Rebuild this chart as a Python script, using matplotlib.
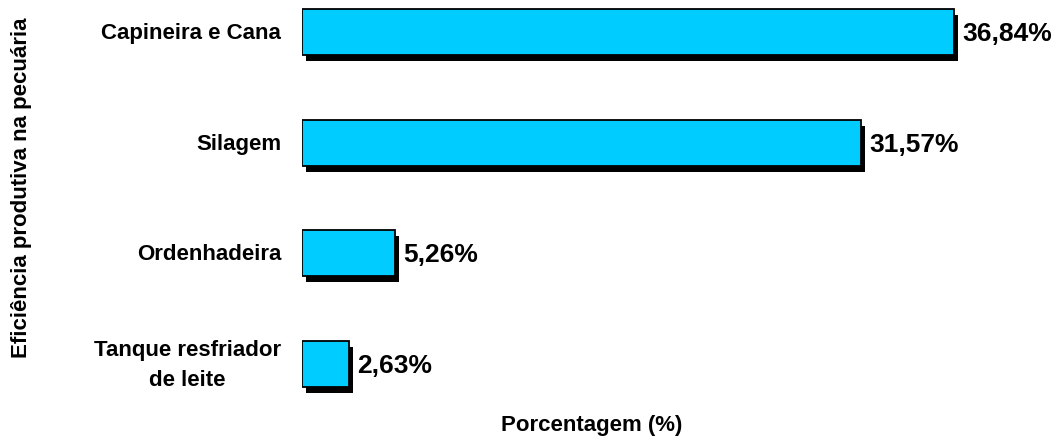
import matplotlib
matplotlib.use("Agg")
import matplotlib.pyplot as plt
import matplotlib.patheffects as pe

categories = ["Tanque resfriador\nde leite", "Ordenhadeira", "Silagem", "Capineira e Cana"]
values = [2.63, 5.26, 31.57, 36.84]
value_labels = ["2,63%", "5,26%", "31,57%", "36,84%"]

plt.rcParams['font.family'] = ['Liberation Sans', 'DejaVu Sans']

W, H = 1061, 441
fig = plt.figure(figsize=(W / 100, H / 100), dpi=100)
# axes: left at x=302 px, pixels per % = 17.7
px_per_unit = 17.7
xmax = 40
ax_left = 302
ax_w = xmax * px_per_unit
ax_top = 0
ax_bottom_px = 400
ax = fig.add_axes([ax_left / W, 1 - ax_bottom_px / H, ax_w / W, (ax_bottom_px - ax_top) / H])

spacing = 110.7
units = (ax_bottom_px - ax_top) / spacing
ytop = 3 + 32 / spacing
ax.set_ylim(ytop - units, ytop)
ax.set_xlim(0, xmax)

ypos = list(range(len(categories)))
bars = ax.barh(ypos, values, height=0.415, color="#00CCFF", edgecolor="black", linewidth=1.3)
for b in bars:
    b.set_path_effects([pe.SimplePatchShadow(offset=(3, -4.3), shadow_rgbFace="black", alpha=1.0), pe.Normal()])

for y, v, lab in zip(ypos, values, value_labels):
    ax.annotate(lab, xy=(v, y), xytext=(6, -1.5), textcoords="offset points",
                ha="left", va="center", fontsize=19, fontweight="bold")

for y, c in zip(ypos, categories):
    ax.annotate(c, xy=(0, y), xytext=(-15, -1), textcoords="offset points",
                ha="right", va="center", multialignment="center",
                fontsize=16, fontweight="bold", linespacing=1.6)

ax.set_xticks([])
ax.set_yticks([])
for s in ax.spines.values():
    s.set_visible(False)

fig.text(592 / W, 1 - 425 / H, "Porcentagem (%)", ha="center", va="center", fontsize=16, fontweight="bold")
fig.text(22 / W, 1 - 188 / H, "Eficiência produtiva na pecuária", ha="center", va="center",
         rotation=90, fontsize=16, fontweight="bold")

fig.savefig("out.png", dpi=100)
